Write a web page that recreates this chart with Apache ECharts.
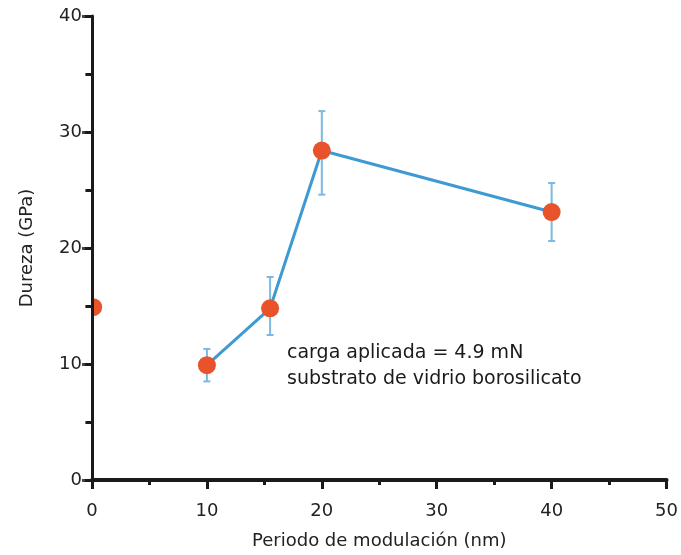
<!DOCTYPE html>
<html>
<head>
<meta charset="utf-8">
<title>Dureza vs periodo de modulación</title>
<script src="https://cdn.jsdelivr.net/npm/echarts@6/dist/echarts.min.js"></script>
<style>
    html, body { margin: 0; padding: 0; background: #fff; }
    #chart { width: 681px; height: 555px; }
</style>
</head>
<body>
<div id="chart"></div>
<script>
// multicapa: periodo (nm) vs dureza (GPa)
const periods = [10, 15.5, 20, 40];
const hardness = [9.9, 14.8, 28.4, 23.1];
const errLow = [8.5, 12.5, 24.6, 20.6];
const errHigh = [11.3, 17.5, 31.8, 25.6];

// punto aislado sobre el eje (periodo ~0)
const singlePeriod = [0.1];
const singleHardness = [14.9];

const xMin = 0, xMax = 50, xStep = 10;
const yMin = 0, yMax = 40, yStep = 10;
const annotation = ["carga aplicada = 4.9 mN", "substrato de vidrio borosilicato"];

const FONT = "'DejaVu Sans', sans-serif";
const FS = 18;
const lineBlue = "#3d9ad2";
const barBlue = "#7db8e0";
const dotColor = "#e8532b";

const chart = echarts.init(document.getElementById("chart"));

const mainData = periods.map((p, i) => [p, hardness[i]]);
const errData = periods.map((p, i) => [p, errLow[i], errHigh[i]]);
const singleData = singlePeriod.map((p, i) => [p, singleHardness[i]]);

function errorBar(params, api) {
    const x = api.value(0);
    const lo = api.coord([x, api.value(1)]);
    const hi = api.coord([x, api.value(2)]);
    const w = 3.5;
    const style = { stroke: barBlue, lineWidth: 2 };
    return {
        type: "group",
        children: [
            { type: "line", shape: { x1: lo[0], y1: lo[1], x2: hi[0], y2: hi[1] }, style: style },
            { type: "line", shape: { x1: lo[0] - w, y1: lo[1], x2: lo[0] + w, y2: lo[1] }, style: style },
            { type: "line", shape: { x1: hi[0] - w, y1: hi[1], x2: hi[0] + w, y2: hi[1] }, style: style }
        ]
    };
}

function dot(params, api) {
    const c = api.coord([api.value(0), api.value(1)]);
    return { type: "circle", shape: { cx: c[0], cy: c[1], r: 9 }, style: { fill: dotColor } };
}

const option = {
    animation: false,
    textStyle: { fontFamily: FONT },
    grid: { left: 92, right: 10, top: 16, bottom: 74 },
    xAxis: [{
        type: "value",
        min: xMin, max: xMax, interval: xStep,
        name: "Periodo de modulación (nm)",
        nameLocation: "middle",
        nameGap: 52,
        nameTextStyle: { fontSize: FS, color: "#222", fontFamily: FONT },
        axisLine: { lineStyle: { color: "#1a1a1a", width: 3 } },
        axisTick: { length: 8, lineStyle: { color: "#1a1a1a", width: 3 } },
        minorTick: { show: true, splitNumber: 2, length: 5, lineStyle: { color: "#1a1a1a", width: 3 } },
        axisLabel: { fontSize: FS, color: "#222", margin: 22, fontFamily: FONT },
        splitLine: { show: false },
        z: 5
    }, {
        type: "value",
        position: "top",
        min: xMin, max: xMax, interval: xStep,
        axisLine: { lineStyle: { color: "#1a1a1a", width: 4 } },
        axisTick: { inside: true, length: 9, lineStyle: { color: "#1a1a1a", width: 3 } },
        minorTick: { show: true, splitNumber: 2, length: 5, lineStyle: { color: "#1a1a1a", width: 3 } },
        axisLabel: { show: false },
        splitLine: { show: false },
        z: 5
    }],
    yAxis: [{
        type: "value",
        min: yMin, max: yMax, interval: yStep,
        name: "Dureza (GPa)",
        nameLocation: "middle",
        nameGap: 56,
        nameTextStyle: { fontSize: FS, color: "#222", fontFamily: FONT },
        axisLine: { lineStyle: { color: "#1a1a1a", width: 3 } },
        axisTick: { length: 7, lineStyle: { color: "#1a1a1a", width: 3 } },
        minorTick: { show: true, splitNumber: 2, length: 6, lineStyle: { color: "#1a1a1a", width: 3 } },
        axisLabel: { fontSize: FS, color: "#222", margin: 10, fontFamily: FONT },
        splitLine: { show: false },
        z: 5
    }, {
        type: "value",
        position: "right",
        min: yMin, max: yMax, interval: yStep,
        axisLine: { show: false },
        axisTick: { show: true, inside: true, length: 10, lineStyle: { color: "#444", width: 3 } },
        minorTick: { show: true, splitNumber: 2, length: 7, lineStyle: { color: "#777", width: 3 } },
        axisLabel: { show: false },
        splitLine: { show: false }
    }],
    graphic: [{
        type: "text",
        left: 287,
        top: 340,
        style: {
            text: annotation.join("\n"),
            font: "19px " + FONT,
            fill: "#1a1a1a",
            lineHeight: 26
        }
    }],
    series: [{
        type: "custom",
        name: "error",
        renderItem: errorBar,
        data: errData,
        z: 2
    }, {
        type: "line",
        name: "dureza",
        data: mainData,
        lineStyle: { color: lineBlue, width: 3 },
        itemStyle: { color: dotColor },
        symbol: "circle",
        symbolSize: 18,
        z: 3
    }, {
        type: "custom",
        name: "aislado",
        renderItem: dot,
        data: singleData,
        clip: true,
        z: 3
    }]
};

chart.setOption(option);
</script>
</body>
</html>
